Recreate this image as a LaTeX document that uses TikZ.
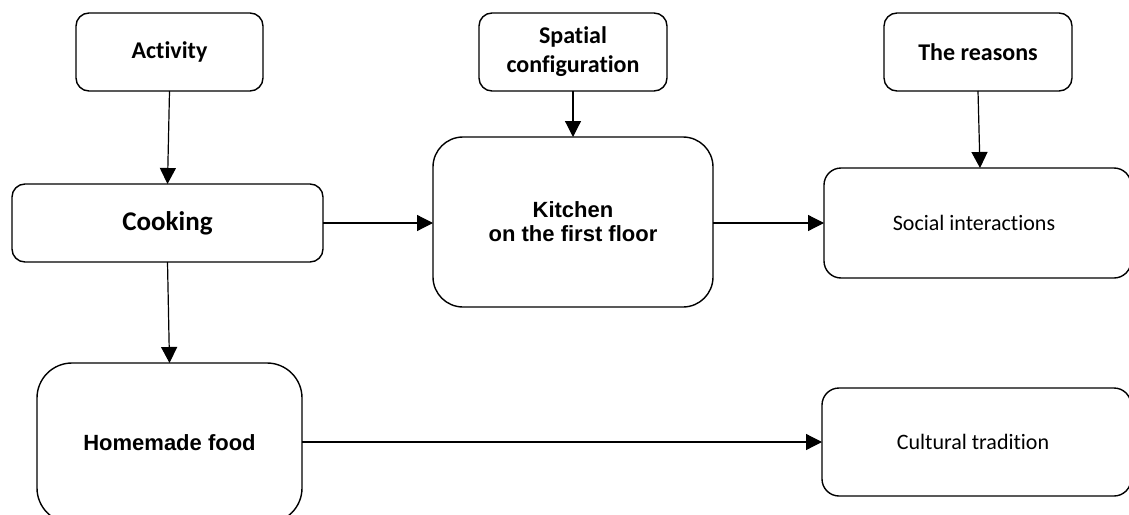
\documentclass[tikz,border=0pt]{standalone}
\usepackage{fontspec}
\setmainfont{Carlito}[Ligatures={NoCommon}]
\newfontfamily\arialfont{Liberation Sans}
\usetikzlibrary{arrows.meta}
\tikzset{
  box/.style={draw=black, line width=1.4pt, inner sep=0pt, outer sep=0pt, align=center, anchor=center},
  small/.style={box, rounded corners=13pt, font=\fontsize{24}{29}\selectfont\bfseries},
  arr/.style={line width=1.2pt, -{Triangle[width=16pt,length=16pt]}}
}
\begin{document}
\begin{tikzpicture}[x=1pt,y=-1pt]
\useasboundingbox (0,0) rectangle (1129,514);
\clip (0,0) rectangle (1129,514);
\node[small, minimum width=187pt, minimum height=78pt] (act) at (169.5,52) {\raisebox{-2pt}{Activity}};
\node[small, minimum width=188pt, minimum height=78pt] (spa) at (573,52) {\raisebox{-2pt}{Spatial}\\\raisebox{-2pt}{configuration}};
\node[small, minimum width=188pt, minimum height=78pt] (rea) at (978,52) {The reasons};
\node[box, rounded corners=13pt, minimum width=311pt, minimum height=78pt, font=\fontsize{27}{32}\selectfont\bfseries] (cook) at (167.5,223) {Cooking};
\node[box, rounded corners=30pt, minimum width=280pt, minimum height=170pt, font=\arialfont\fontsize{22}{24}\selectfont\bfseries] (kit) at (573,222) {Kitchen\\on the first floor};
\node[box, rounded corners=17pt, minimum width=307pt, minimum height=110pt, font=\fontsize{22}{26}\selectfont] (soc) at (977.5,223) {\hspace*{-7pt}Social interactions};
\node[box, rounded corners=35pt, minimum width=265pt, minimum height=160pt, font=\arialfont\fontsize{22}{26}\selectfont\bfseries] (home) at (169.5,443) {Homemade food};
\node[box, rounded corners=17pt, minimum width=309pt, minimum height=108pt, font=\fontsize{22}{26}\selectfont] (cul) at (976.5,442) {\hspace*{-7pt}Cultural tradition};
\draw[arr] (act.south) -- (cook.north);
\draw[arr] (spa.south) -- (kit.north);
\draw[arr] (rea.south) -- ([xshift=2.5pt]soc.north);
\draw[arr] (cook.east) -- (cook.east -| kit.west);
\draw[arr] (kit.east |- soc.west) -- (soc.west);
\draw[arr] (cook.south) -- (home.north);
\draw[arr] (home.east |- cul.west) -- (cul.west);
\end{tikzpicture}
\end{document}
